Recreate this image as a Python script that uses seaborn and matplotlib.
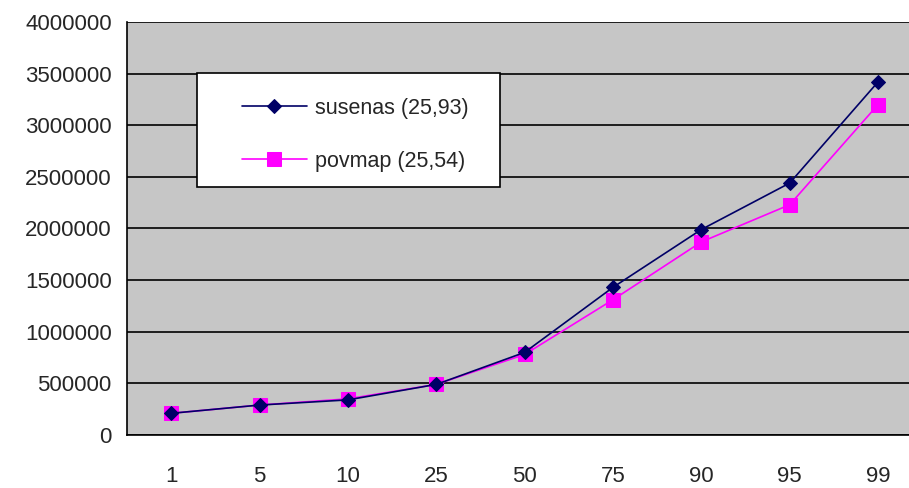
import matplotlib
matplotlib.use("Agg")
import matplotlib.pyplot as plt
from matplotlib.patches import Rectangle
import seaborn as sns
import pandas as pd

# percentile categories and values
percentiles = ["1", "5", "10", "25", "50", "75", "90", "95", "99"]
susenas = [210000, 290000, 340000, 490000, 800000, 1430000, 1990000, 2440000, 3420000]
povmap = [210000, 290000, 350000, 490000, 780000, 1310000, 1870000, 2230000, 3200000]

sns.set_style("white")
plt.rcParams["font.family"] = ["Liberation Sans", "DejaVu Sans"]

pos = list(range(len(percentiles)))
df = pd.DataFrame({"pos": pos + pos,
                   "value": susenas + povmap,
                   "series": ["susenas (25,93)"] * len(pos) + ["povmap (25,54)"] * len(pos)})

fig = plt.figure(figsize=(9.09, 4.88), dpi=100)
ax = fig.add_axes([0.1397, 0.1086, 0.8603, 0.8464])
ax.set_facecolor("#c6c6c6")

sns.lineplot(data=df[df.series == "susenas (25,93)"], x="pos", y="value", ax=ax,
             color="#000066", lw=1.2, marker="D", markersize=7, mec="#000066",
             label="susenas (25,93)", zorder=4)
sns.lineplot(data=df[df.series == "povmap (25,54)"], x="pos", y="value", ax=ax,
             color="#ff00ff", lw=1.2, marker="s", markersize=10, mec="#ff00ff",
             label="povmap (25,54)", zorder=3)

ax.set_xlim(-0.5, 8.35)
ax.set_ylim(0, 4000000)
ax.set_yticks(range(0, 4000001, 500000))
ax.set_yticklabels([str(v) for v in range(0, 4000001, 500000)], fontsize=16)
ax.set_xticks(pos)
ax.set_xticklabels(percentiles, fontsize=16)
ax.set_xticks([p - 0.5 for p in pos], minor=True)
ax.tick_params(axis="x", which="major", length=0, pad=22)
ax.tick_params(axis="x", which="minor", length=7, width=1.2, color="black", direction="out")
ax.tick_params(axis="y", length=7, width=1.2, color="black", direction="out", pad=4)
ax.set_xlabel("")
ax.set_ylabel("")

ax.grid(axis="y", color="black", lw=1.2)
ax.set_axisbelow(True)
for s in ["top", "right"]:
    ax.spines[s].set_visible(False)
for s in ["left", "bottom"]:
    ax.spines[s].set_color("black")
    ax.spines[s].set_linewidth(1.2)

# legend box drawn separately so the padding matches the original
ax.add_patch(Rectangle((0.0895, 0.6005), 0.3875, 0.276, transform=ax.transAxes,
                       facecolor="white", edgecolor="black", lw=1.2, zorder=5))
leg = ax.legend(loc="upper left", bbox_to_anchor=(0.147, 0.817), fontsize=15.5,
                frameon=False, borderpad=0, labelspacing=1.5, handlelength=3.0,
                handletextpad=0.4, borderaxespad=0)
leg.set_zorder(6)

fig.savefig("out.png", dpi=100)
